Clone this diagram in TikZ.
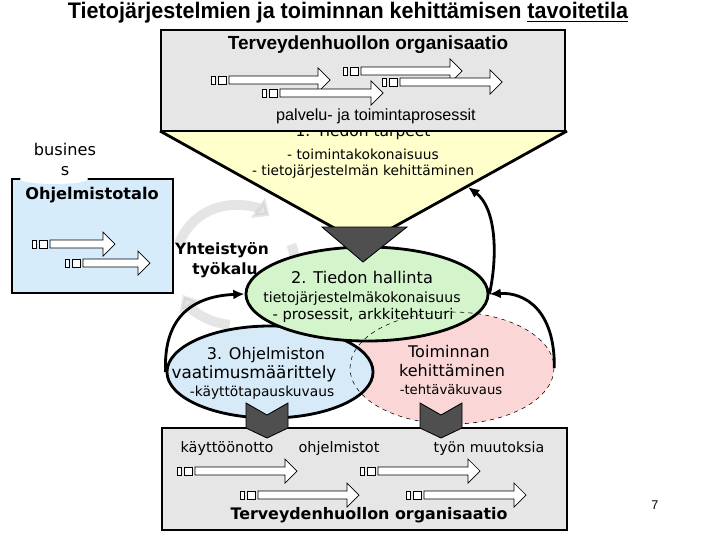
\documentclass[tikz,border=0pt]{standalone}
\usepackage{fontspec}
\setmainfont{DejaVu Sans}
\newfontfamily\narrowfont{Liberation Sans}
\usepackage{graphicx}
\usetikzlibrary{arrows.meta,shapes.geometric}

\definecolor{boxgray}{HTML}{E6E6E6}
\definecolor{needyellow}{HTML}{FFFFCC}
\definecolor{datagreen}{HTML}{D4F5CC}
\definecolor{reqblue}{HTML}{D6EAF8}
\definecolor{workpink}{HTML}{FBD6D6}
\definecolor{housblue}{HTML}{D7ECFA}
\definecolor{chevgray}{HTML}{4F4F4F}

% small process flow: two tags and a block arrow (x, y, tip x)
\newcommand{\flowarrow}[3]{%
  \draw[flowpart] (#1,#2-4) rectangle ++(4.5,8);
  \draw[flowpart] (#1+7,#2-4) rectangle ++(8,8);
  \draw[flowpart] (#1+18,#2-4) -- (#3-12,#2-4) -- (#3-12,#2-12) -- (#3,#2)
    -- (#3-12,#2+12) -- (#3-12,#2+4) -- (#1+18,#2+4) -- cycle;}

\begin{document}
\begin{tikzpicture}[x=0.025cm,y=-0.025cm,>={Latex[length=8pt,width=7pt]},
  every node/.append style={inner sep=1pt,text height=1.6ex,text depth=0.4ex},
  orgbox/.style={draw,line width=2pt,fill=boxgray},
  flowpart/.style={draw,fill=white,line width=0.5pt},
  chev/.style={draw,fill=chevgray,line width=0.6pt},
  bubble/.style={ellipse,draw,line width=2pt,inner sep=0pt},
  cycleline/.style={line width=2pt},
  swirl/.style={gray!45,opacity=0.45,line width=7pt,-{Triangle[width=17pt,length=10pt]}},
  small/.style={font=\fontsize{9.8}{12}\selectfont},
  normal/.style={font=\fontsize{11.4}{13}\selectfont},
  heavy/.style={font=\fontsize{11}{13}\selectfont\bfseries}]
  \useasboundingbox (0,0) rectangle (720,540);

  % title
  \node (title) at (348,14) {\resizebox{14cm}{\height}{\narrowfont\fontsize{16}{18}\selectfont\bfseries
    Tietojärjestelmien ja toiminnan kehittämisen \underline{tavoitetila}}};

  % 1. needs funnel
  \fill[needyellow] (160,131) -- (567,131) -- (363,244) -- cycle;
  \draw[line width=2pt] (160,131) -- (363,244) -- (567,131);
  \coordinate (needsedge) at (468,187);
  \node[font=\fontsize{11}{13}\selectfont,anchor=base] (needs) at (363,136) {1. Tiedon tarpeet};
  \node[small] (needs1) at (363,155) {- toimintakokonaisuus};
  \node[small] (needs2) at (363,171) {- tietojärjestelmän kehittäminen};

  % organisation on top
  \draw[orgbox] (161,30) rectangle (565,131);
  \node[font=\narrowfont\fontsize{13.5}{15}\selectfont\bfseries] (orgtop) at (368,45) {Terveydenhuollon organisaatio};
  \flowarrow{211}{80}{330}
  \flowarrow{262}{93}{383}
  \flowarrow{343}{71}{462}
  \flowarrow{382}{82}{502}
  \node[font=\narrowfont\fontsize{11.5}{13}\selectfont] (process) at (376,116) {palvelu- ja toimintaprosessit};

  % software house
  \draw[line width=2pt,fill=housblue] (12,179) rectangle (173,293);
  \fill[white] (54,179) ellipse [x radius=34, y radius=5];
  \node[font=\fontsize{11.5}{13}\selectfont] (busi) at (65,151) {busines};
  \node[font=\fontsize{11.5}{13}\selectfont] (busi2) at (65,171) {s};
  \node[font=\fontsize{11.5}{13}\selectfont\bfseries] (house) at (92,195) {Ohjelmistotalo};
  \flowarrow{32}{244}{115}
  \flowarrow{65}{263}{150}

  % faint cycle in the background
  \draw[swirl] (235,265) ++(-160:60) arc[start angle=-160, end angle=-55, radius=60];
  \draw[swirl] (235,265) ++(-20:60) arc[start angle=-20, end angle=65, radius=60];
  \draw[swirl] (235,265) ++(95:60) arc[start angle=95, end angle=150, radius=60];

  % ellipses
  \node[ellipse,fill=workpink,minimum width=5.1cm,minimum height=2.8cm] (toiminta) at (452,368) {};
  \node[bubble,fill=reqblue,minimum width=5.15cm,minimum height=2.3cm] (vaatimus) at (270,372) {};
  \node[bubble,fill=datagreen,minimum width=6.05cm,minimum height=2.35cm] (hallinta) at (367,294) {};
  \draw[dashed,line width=0.4pt] (452,368) ellipse [x radius=102, y radius=56];

  \node[font=\fontsize{11.5}{13}\selectfont] (hall1) at (362,279) {2. Tiedon hallinta};
  \node[font=\fontsize{10}{12}\selectfont] (hall2) at (362,298) {tietojärjestelmäkokonaisuus};
  \node[font=\fontsize{10.5}{12}\selectfont] (hall3) at (363,315) {- prosessit, arkkitehtuuri};
  \node[normal] (vaat1) at (266,355) {3. Ohjelmiston};
  \node[font=\fontsize{12}{14}\selectfont] (vaat2) at (254,374) {vaatimusmäärittely};
  \node[small] (vaat3) at (262,392) {-käyttötapauskuvaus};
  \node[normal] (toim1) at (449,353) {Toiminnan};
  \node[normal] (toim2) at (452,372) {kehittäminen};
  \node[font=\fontsize{9.4}{11}\selectfont] (toim3) at (451,390) {-tehtäväkuvaus};

  % cycle between the areas
  \draw[cycleline,->] (vaatimus.west) .. controls (163,315) and (195,296) .. (hallinta.west);
  \draw[cycleline,->] (toiminta.east) .. controls (555,310) and (525,292) .. (hallinta.east);
  \draw[cycleline,->] (hallinta.east) .. controls (498,255) and (496,208) .. (needsedge);

  \node[heavy] (tool1) at (222,250) {Yhteistyön};
  \node[heavy] (tool2) at (225,270) {työkalu};

  % funnel tip
  \draw[chev] (322,227) -- (407,227) -- (363,262) -- cycle;

  % organisation at the bottom
  \draw[orgbox] (162,428) rectangle (567,530);
  \node[font=\fontsize{10.3}{12}\selectfont] (deploy) at (227,448) {käyttöönotto};
  \node[font=\fontsize{10.3}{12}\selectfont] (softw) at (339,448) {ohjelmistot};
  \node[font=\fontsize{10.1}{12}\selectfont] (change) at (489,448) {työn muutoksia};
  \flowarrow{177}{471}{297}
  \flowarrow{240}{495}{359}
  \flowarrow{360}{471}{480}
  \flowarrow{406}{495}{526}
  \node[font=\fontsize{11.3}{13}\selectfont\bfseries] (orgbot) at (369,515) {Terveydenhuollon organisaatio};

  \draw[chev] (246,403) -- (267,415) -- (288,403) -- (288,428) -- (267,438) -- (246,428) -- cycle;
  \draw[chev] (420,403) -- (441,415) -- (462,403) -- (462,428) -- (441,438) -- (420,428) -- cycle;

  \node[font=\narrowfont\fontsize{9}{11}\selectfont] (page) at (655,505) {7};
\end{tikzpicture}
\end{document}
